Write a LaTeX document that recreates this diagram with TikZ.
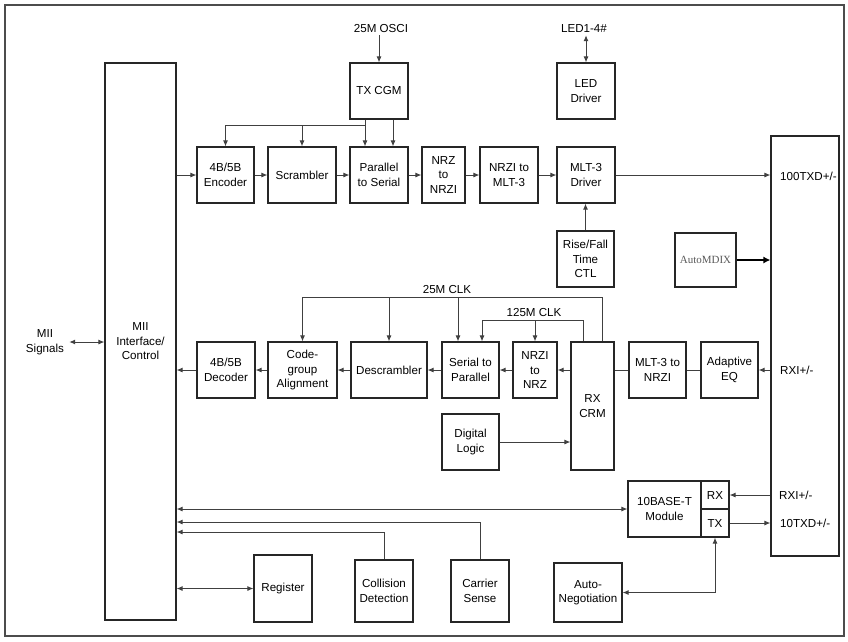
\documentclass[tikz,border=0pt]{standalone}
\usepackage{fontspec}
\setmainfont{Liberation Sans}
\newfontfamily\serifmdix{Liberation Serif}
\usetikzlibrary{arrows.meta}
\tikzset{
  box/.style={draw=black!85, line width=1.1pt, align=center, inner sep=1pt, font=\fontsize{11.6}{14.5}\selectfont},
  lbl/.style={align=center, inner sep=2pt, font=\fontsize{11.6}{14.5}\selectfont},
  con/.style={draw=black!75, line width=1pt},
  arr/.style={con, -{Latex[length=6pt,width=5pt]}},
  dbl/.style={con, {Latex[length=6pt,width=5pt]}-{Latex[length=6pt,width=5pt]}},
  bigarr/.style={draw=black, line width=1.6pt, -{Latex[length=7pt,width=7pt]}}
}
\begin{document}
\begin{tikzpicture}[x=1pt,y=-1pt]
\useasboundingbox (0,0) rectangle (848,641);
\draw[black!70, line width=1.5pt] (5,5) rectangle (844,636);

% boxes
\node[box, minimum width=71, minimum height=557] (mii) at (140.5,341.5) {MII\\Interface/\\Control};
\node[box, minimum width=57, minimum height=56] (enc) at (225.5,175) {4B/5B\\Encoder};
\node[box, minimum width=68, minimum height=56] (scr) at (302,175) {Scrambler};
\node[box, minimum width=58, minimum height=56] (p2s) at (379,175) {Parallel\\to Serial};
\node[box, minimum width=43, minimum height=56] (nrz) at (443.5,175) {NRZ\\to\\NRZI};
\node[box, minimum width=58, minimum height=56] (nrzimlt) at (509,175) {NRZI to\\MLT-3};
\node[box, minimum width=58, minimum height=56] (mltdrv) at (586,175) {MLT-3\\Driver};
\node[box, minimum width=58, minimum height=56] (txcgm) at (379,91) {TX CGM};
\node[box, minimum width=58, minimum height=56] (led) at (586,91) {LED\\Driver};
\node[box, minimum width=57, minimum height=56] (rise) at (585.5,259) {Rise/Fall\\Time\\CTL};
\node[box, minimum width=61, minimum height=54, font=\serifmdix\fontsize{11}{13}\selectfont, text=black!65] (mdix) at (705.5,260) {AutoMDIX};
\node[box, minimum width=68, minimum height=420] (big) at (805,346) {};

\node[box, minimum width=58, minimum height=56] (dec) at (226,370) {4B/5B\\Decoder};
\node[box, minimum width=69, minimum height=56] (cga) at (302.5,370) {Code-\\group\\Alignment};
\node[box, minimum width=76, minimum height=56] (desc) at (389,370) {Descrambler};
\node[box, minimum width=57, minimum height=56] (s2p) at (470.5,370) {Serial to\\Parallel};
\node[box, minimum width=44, minimum height=56] (nrzinrz) at (535,370) {NRZI\\to\\NRZ};
\node[box, minimum width=43, minimum height=128] (rxcrm) at (592.5,406) {RX\\CRM};
\node[box, minimum width=57, minimum height=56] (dl) at (470.5,442) {Digital\\Logic};
\node[box, minimum width=57, minimum height=56] (mltnrzi) at (657.5,370) {MLT-3 to\\NRZI};
\node[box, minimum width=57, minimum height=56] (aeq) at (729.5,370) {Adaptive\\EQ};

\node[box, minimum width=73, minimum height=56] (tenb) at (664.5,509) {10BASE-T\\Module};
\node[box, minimum width=28, minimum height=28] (rxs) at (715,495) {RX};
\node[box, minimum width=28, minimum height=28] (txs) at (715,523) {TX};
\node[box, minimum width=58, minimum height=67] (reg) at (283,588.5) {Register};
\node[box, minimum width=58, minimum height=62] (col) at (384,591) {Collision\\Detection};
\node[box, minimum width=58, minimum height=62] (cs) at (480,591) {Carrier\\Sense};
\node[box, minimum width=68, minimum height=59] (an) at (588,592.5) {Auto-\\Negotiation};

% labels
\node[lbl] (osci) at (381,29) {25M OSCI};
\node[lbl] (ledsig) at (584,29) {LED1-4\#};
\node[lbl] (misig) at (45,342) {MII\\Signals};
\node[lbl, anchor=west] (t100) at (778,176) {100TXD+/-};
\node[lbl, anchor=west] (rxi) at (778,370) {RXI+/-};
\node[lbl, anchor=west] (rxi10) at (777,495) {RXI+/-};
\node[lbl, anchor=west] (t10) at (778,523) {10TXD+/-};
\node[lbl] (clk25) at (447,289) {25M CLK};
\node[lbl] (clk125) at (534,312) {125M CLK};

% TX path
\draw[arr] (osci.south -| txcgm.north) -- (txcgm.north);
\draw[dbl] (ledsig.south -| led.north) -- (led.north);
\draw[arr] (enc.west -| mii.east) -- (enc.west);
\draw[arr] (enc) -- (scr);
\draw[arr] (scr) -- (p2s);
\draw[arr] (p2s) -- (nrz);
\draw[arr] (nrz) -- (nrzimlt);
\draw[arr] (nrzimlt) -- (mltdrv);
\draw[arr] (mltdrv.east) -- (mltdrv.east -| big.west);
\draw[arr] (rise.north) -- (rise.north |- mltdrv.south);
\draw[bigarr] (mdix.east) -- (mdix.east -| big.west);

\coordinate (tj) at (365,125);
\draw[arr] ([xshift=-14]txcgm.south) -- ([xshift=-14]p2s.north);
\draw[arr] ([xshift=14]txcgm.south) -- ([xshift=14]p2s.north);
\draw[arr] (tj) -| (enc.north);
\draw[arr] (tj -| scr.north) -- (scr.north);

% RX path
\draw[arr] (big.west |- aeq.east) -- (aeq.east);
\draw[con] (aeq.west) -- (mltnrzi.east);
\draw[con] (mltnrzi.west) -- (mltnrzi.west -| rxcrm.east);
\draw[arr] (rxcrm.west |- nrzinrz.east) -- (nrzinrz.east);
\draw[arr] (nrzinrz) -- (s2p);
\draw[arr] (s2p) -- (desc);
\draw[arr] (desc) -- (cga);
\draw[arr] (cga) -- (dec);
\draw[arr] (dec.west) -- (dec.west -| mii.east);
\draw[arr] (dl.east) -- (dl.east -| rxcrm.west);

% clocks
\coordinate (k25) at (602,297);
\coordinate (k125) at (583,320);
\draw[arr] (k25 |- rxcrm.north) -- (k25) -| (cga.north);
\draw[arr] (k25 -| desc.north) -- (desc.north);
\draw[arr] (k25 -| 458,0) -- (458,0 |- s2p.north);
\draw[arr] (k125 |- rxcrm.north) -- (k125) -| ([xshift=11.5]s2p.north);
\draw[arr] (k125 -| nrzinrz.north) -- (nrzinrz.north);

% 10BASE-T and bottom
\draw[arr] (big.west |- rxs.east) -- (rxs.east);
\draw[arr] (txs.east) -- (txs.east -| big.west);
\draw[dbl] (tenb.west -| mii.east) -- (tenb.west);
\coordinate (csj) at (480,522);
\coordinate (cdj) at (384,532);
\draw[arr] (cs.north) -- (csj) -- (csj -| mii.east);
\draw[arr] (col.north) -- (cdj) -- (cdj -| mii.east);
\draw[dbl] (reg.west -| mii.east) -- (reg.west);
\draw[dbl] (an.east) -| (txs.south);
\draw[dbl] ([xshift=3]misig.east) -- (misig.east -| mii.west);
\end{tikzpicture}
\end{document}
